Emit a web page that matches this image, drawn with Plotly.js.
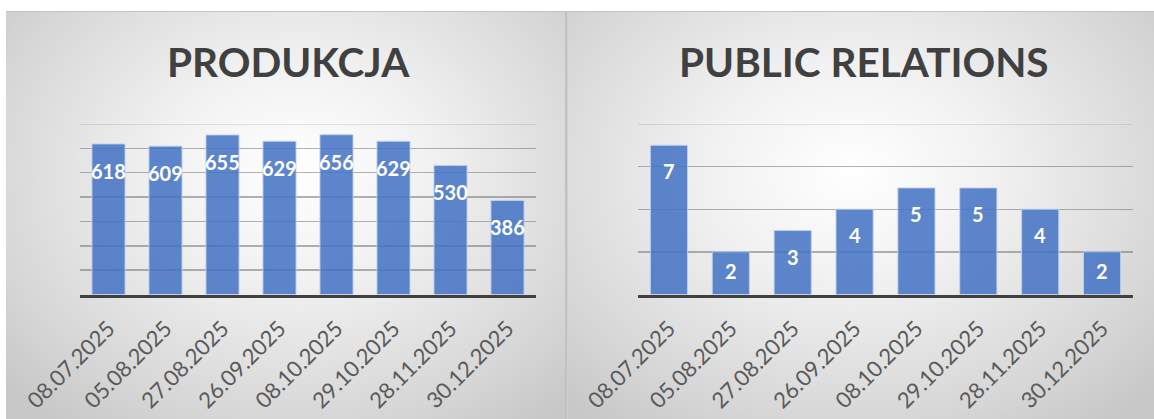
<!DOCTYPE html>
<html>
<head>
<meta charset="utf-8">
<script src="https://cdn.plot.ly/plotly-3.0.1.min.js"></script>
<style>
  html, body { margin: 0; padding: 0; background: #ffffff; }
  #wrap { position: relative; width: 1154px; height: 419px; overflow: hidden; background: #ffffff; }
  .bg { position: absolute; top: 11px; height: 420px; }
  #bgL { left: 6px; width: 559px; border-top: 1px solid #c4c4c4;
         background: radial-gradient(ellipse 70% 75% at 52% 38%, #ffffff 0%, #f1f1f1 35%, #d6d6d6 80%, #c8c8c8 100%); }
  #bgR { left: 567px; width: 590px; border-top: 1px solid #c4c4c4; border-left: 1px solid #cfcfcf;
         background: radial-gradient(ellipse 70% 75% at 48% 38%, #ffffff 0%, #f1f1f1 35%, #d6d6d6 80%, #c8c8c8 100%); }
  #sep { position: absolute; left: 565px; top: 11px; width: 2px; height: 420px; background: #c2c2c2; }
  #chart { position: absolute; left: 0; top: 0; width: 1154px; height: 419px; }
</style>
</head>
<body>
<div id="wrap">
  <div id="bgL" class="bg"></div>
  <div id="bgR" class="bg"></div>
  <div id="sep"></div>
  <div id="chart"></div>
</div>
<script>
const categories = ["08.07.2025", "05.08.2025", "27.08.2025", "26.09.2025", "08.10.2025", "29.10.2025", "28.11.2025", "30.12.2025"];
const produkcja = [618, 609, 655, 629, 656, 629, 530, 386];
const publicRelations = [7, 2, 3, 4, 5, 5, 4, 2];
const titleLeft = "PRODUKCJA";
const titleRight = "PUBLIC RELATIONS";

const barColor = "rgba(68,114,196,0.86)";
const barLine = "rgba(190,208,240,0.9)";
const tickFont = { family: "Lato, 'Open Sans', sans-serif", size: 22, color: "#595959" };
const labelFont = { family: "Lato, 'Open Sans', sans-serif", size: 20, color: "#ffffff" };
const titleFont = { family: "Lato, 'Open Sans', sans-serif", size: 40.5, color: "#404040" };

const traces = [
  { type: "bar", x: categories, y: produkcja, xaxis: "x", yaxis: "y",
    marker: { color: barColor, line: { color: barLine, width: 1 } },
    width: 0.58, hoverinfo: "none", showlegend: false },
  { type: "bar", x: categories, y: publicRelations, xaxis: "x2", yaxis: "y2",
    marker: { color: barColor, line: { color: barLine, width: 1 } },
    width: 0.6, hoverinfo: "none", showlegend: false }
];

const annotations = [];
categories.forEach((c, i) => {
  annotations.push({ xref: "x", yref: "y", x: c, y: produkcja[i], text: "<b>" + produkcja[i] + "</b>",
    showarrow: false, yanchor: "middle", yshift: -27, font: labelFont });
  annotations.push({ xref: "x2", yref: "y2", x: c, y: publicRelations[i], text: "<b>" + publicRelations[i] + "</b>",
    showarrow: false, yanchor: "middle", yshift: (publicRelations[i] <= 2 ? -19 : -26), font: labelFont });
});
annotations.push({ xref: "paper", yref: "paper", x: 288 / 1154, y: (419 - 62) / 419, text: "<b>" + titleLeft + "</b>",
  showarrow: false, xanchor: "center", yanchor: "middle", font: titleFont });
annotations.push({ xref: "paper", yref: "paper", x: 864 / 1154, y: (419 - 62) / 419, text: "<b>" + titleRight + "</b>",
  showarrow: false, xanchor: "center", yanchor: "middle", font: titleFont });

const gridColor = "rgba(115,115,115,0.55)";
const topGridColor = "rgba(150,150,150,0.35)";
const yDomain = [(419 - 294.5) / 419, (419 - 124) / 419];

const shapes = [
  { type: "line", xref: "x domain", yref: "y", x0: 0, x1: 1, y0: 700, y1: 700, line: { color: topGridColor, width: 1.5 }, layer: "below" },
  { type: "line", xref: "x2 domain", yref: "y2", x0: 0, x1: 1, y0: 8, y1: 8, line: { color: topGridColor, width: 1.5 }, layer: "below" }
];

const axisX = (domain, anchor) => ({ domain: domain, anchor: anchor, type: "category", tickangle: -45,
  tickfont: tickFont, ticklabelstandoff: 9, showline: true, linecolor: "#404040", linewidth: 3.5,
  ticks: "", showgrid: false, fixedrange: true });

const layout = {
  width: 1154, height: 419,
  margin: { l: 0, r: 0, t: 0, b: 0 },
  paper_bgcolor: "rgba(0,0,0,0)", plot_bgcolor: "rgba(0,0,0,0)",
  showlegend: false,
  xaxis: axisX([80 / 1154, 536 / 1154], "y"),
  yaxis: { domain: yDomain, anchor: "x", range: [0, 700], dtick: 100, showticklabels: false,
    showgrid: true, gridcolor: gridColor, gridwidth: 1.5, zeroline: false, showline: false, ticks: "",
    fixedrange: true },
  xaxis2: axisX([638 / 1154, 1133 / 1154], "y2"),
  yaxis2: { domain: yDomain, anchor: "x2", range: [0, 8], dtick: 2, showticklabels: false,
    showgrid: true, gridcolor: gridColor, gridwidth: 1.5, zeroline: false, showline: false, ticks: "",
    fixedrange: true },
  shapes: shapes,
  annotations: annotations
};

Plotly.newPlot("chart", traces, layout, { staticPlot: true, displayModeBar: false });
</script>
</body>
</html>
